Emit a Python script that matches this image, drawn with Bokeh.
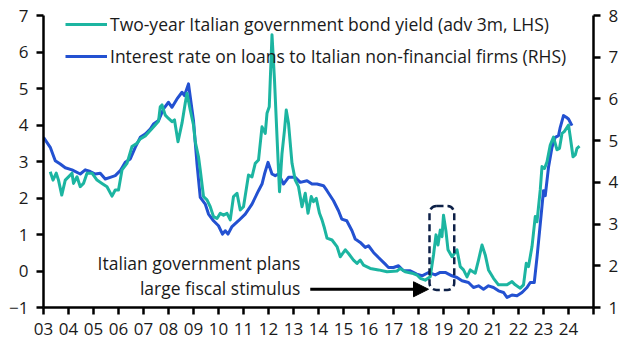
from bokeh.plotting import figure
from bokeh.models import (Range1d, LinearAxis, FixedTicker, Legend, LegendItem,
                          BoxAnnotation, Arrow, NormalHead, Label)
from bokeh.embed import file_html
from bokeh.resources import INLINE

# ---------------- data ----------------
# Two-year Italian government bond yield (adv 3m, LHS), % -- decimal years
bond_years = [
    2003.27, 2003.38, 2003.51, 2003.60, 2003.73, 2003.87,
    2004.00, 2004.14, 2004.20, 2004.34, 2004.47, 2004.60, 2004.74, 2004.94,
    2005.14, 2005.34, 2005.54, 2005.74, 2005.87,
    2006.00, 2006.14, 2006.34, 2006.54, 2006.74, 2006.87,
    2007.07, 2007.27, 2007.47, 2007.60, 2007.67, 2007.74, 2007.87,
    2008.00, 2008.14, 2008.24, 2008.38, 2008.54, 2008.67, 2008.74, 2008.87,
    2009.00, 2009.07, 2009.20, 2009.27, 2009.40, 2009.54, 2009.67, 2009.80, 2009.94,
    2010.07, 2010.20, 2010.34, 2010.47, 2010.60, 2010.74, 2010.87,
    2011.00, 2011.20, 2011.34, 2011.47, 2011.60, 2011.74, 2011.87, 2011.94,
    2012.03, 2012.14, 2012.24, 2012.34, 2012.44, 2012.54, 2012.64, 2012.71, 2012.80, 2012.94,
    2013.07, 2013.20, 2013.34, 2013.47, 2013.58, 2013.71, 2013.80, 2013.91,
    2014.04, 2014.14, 2014.24, 2014.34, 2014.54, 2014.74, 2014.87,
    2015.07, 2015.20, 2015.40, 2015.54, 2015.67, 2015.80,
    2016.07, 2016.40, 2016.74,
    2017.14, 2017.27, 2017.47, 2017.74, 2017.94,
    2018.07, 2018.27, 2018.47, 2018.60, 2018.70, 2018.78, 2018.87, 2018.94,
    2019.00, 2019.10, 2019.18, 2019.34, 2019.54, 2019.67, 2019.80, 2019.94,
    2020.07, 2020.27, 2020.40, 2020.54, 2020.67, 2020.80,
    2021.00, 2021.20, 2021.54, 2021.74, 2021.87,
    2022.07, 2022.20, 2022.31, 2022.40, 2022.54, 2022.67, 2022.74, 2022.87, 2022.94,
    2023.04, 2023.14, 2023.27, 2023.40, 2023.54, 2023.64, 2023.74, 2023.83,
    2024.00, 2024.07, 2024.18, 2024.27, 2024.34, 2024.44,
]
bond_yield = [
    2.72, 2.49, 2.68, 2.49, 2.08, 2.49,
    2.58, 2.68, 2.40, 2.58, 2.31, 2.40, 2.68, 2.68,
    2.49, 2.40, 2.31, 2.05, 2.22,
    2.22, 2.77, 2.95, 3.41, 3.50, 3.62,
    3.70, 3.85, 4.00, 4.10, 4.50, 4.55, 4.27,
    4.18, 4.09, 4.14, 3.54, 4.05, 4.60, 4.87, 4.41,
    4.00, 3.54, 3.13, 2.77, 2.04, 1.95, 1.76, 1.49, 1.44,
    1.58, 1.53, 1.58, 1.40, 2.04, 2.13, 1.67,
    1.76, 2.63, 2.58, 2.95, 3.04, 3.95, 3.77, 4.32,
    4.50, 6.47, 5.23, 3.68, 2.17, 3.22, 3.86, 4.41, 4.05, 2.95,
    2.49, 2.31, 1.76, 2.13, 1.58, 2.04, 1.90, 1.99,
    1.58, 1.40, 1.17, 0.90, 0.85, 0.67, 0.39,
    0.58, 0.48, 0.30, 0.21, 0.30, 0.16,
    0.07, 0.03, -0.02,
    0.00, 0.07, -0.02, -0.06, -0.11,
    -0.20, -0.25, -0.16, 0.44, 0.99, 0.71, 1.12, 0.94,
    1.53, 1.08, 0.58, 0.39, 0.58, 0.12, 0.03, -0.16,
    0.03, -0.06, 0.30, 0.71, 0.44, 0.03,
    -0.20, -0.38, -0.38, -0.29, -0.38,
    -0.47, -0.38, 0.21, 0.12, 0.67, 1.49, 1.35, 2.22, 2.86,
    2.81, 2.99, 3.45, 3.67, 3.32, 3.36, 3.77, 3.82,
    4.00, 3.68, 3.13, 3.18, 3.36, 3.42,
]

# Interest rate on loans to Italian non-financial firms (RHS), %
loan_years = [
    2003.00, 2003.27, 2003.47, 2003.67, 2003.87,
    2004.14, 2004.47, 2004.67, 2004.87,
    2005.07, 2005.27, 2005.47, 2005.67, 2005.87,
    2006.07, 2006.27, 2006.47, 2006.67, 2006.87,
    2007.07, 2007.27, 2007.40, 2007.60, 2007.80,
    2008.00, 2008.14, 2008.34, 2008.54, 2008.64, 2008.80,
    2009.00, 2009.14, 2009.27, 2009.47, 2009.60, 2009.80,
    2010.00, 2010.16, 2010.27, 2010.38, 2010.54, 2010.80,
    2011.07, 2011.34, 2011.60, 2011.74, 2011.84, 2011.98,
    2012.14, 2012.27, 2012.40, 2012.60, 2012.80,
    2013.07, 2013.27, 2013.54, 2013.74, 2013.94,
    2014.20, 2014.34, 2014.60, 2014.80, 2014.93,
    2015.13, 2015.34, 2015.47, 2015.67, 2015.87,
    2016.00, 2016.20, 2016.40, 2016.67, 2016.80,
    2017.00, 2017.20, 2017.40, 2017.67, 2017.93,
    2018.14, 2018.40, 2018.67, 2018.87,
    2019.07, 2019.34, 2019.54, 2019.74,
    2020.00, 2020.20, 2020.40, 2020.60, 2020.80,
    2021.00, 2021.20, 2021.40, 2021.54, 2021.74, 2021.94,
    2022.14, 2022.34, 2022.47, 2022.63, 2022.74, 2022.87,
    2023.00, 2023.07, 2023.20, 2023.34, 2023.47, 2023.60, 2023.67, 2023.80, 2023.91,
    2024.00, 2024.14,
]
loan_rate = [
    5.08, 4.84, 4.52, 4.44, 4.35,
    4.30, 4.20, 4.30, 4.26,
    4.20, 4.22, 4.08, 4.12, 4.16,
    4.28, 4.48, 4.56, 4.84, 5.08,
    5.16, 5.28, 5.40, 5.48, 5.76,
    5.92, 5.80, 6.00, 6.16, 6.08, 6.36,
    5.48, 4.44, 3.64, 3.48, 3.24, 3.08,
    2.96, 2.76, 2.84, 2.76, 2.94, 3.08,
    3.24, 3.48, 3.80, 3.96, 4.20, 4.48,
    4.20, 4.16, 4.20, 3.96, 4.12,
    4.12, 4.00, 4.04, 3.96, 3.96,
    3.92, 3.80, 3.56, 3.32, 3.12,
    3.08, 2.84, 2.64, 2.56, 2.44,
    2.48, 2.32, 2.20, 2.04, 1.96,
    1.96, 2.00, 1.88, 1.88, 1.80,
    1.76, 1.84, 1.78, 1.84,
    1.84, 1.76, 1.72, 1.64,
    1.60, 1.48, 1.52, 1.44, 1.52,
    1.48, 1.40, 1.36, 1.24, 1.30, 1.28,
    1.36, 1.48, 1.60, 1.60, 2.20, 3.00,
    3.80, 3.68, 4.36, 4.84, 5.08, 5.12, 5.32, 5.60, 5.56,
    5.52, 5.36,
]

year_ticks = list(range(2003, 2026))
year_labels = ["%02d" % (y % 100) for y in range(2003, 2025)] + [""]
lhs_ticks = list(range(-1, 8))
rhs_ticks = list(range(1, 9))

series_names = ["Two-year Italian government bond yield (adv 3m, LHS)",
                "Interest rate on loans to Italian non-financial firms (RHS)"]
note_lines = ["Italian government plans", "large fiscal stimulus"]
# annotation anchors (data units)
box_x = (2018.44, 2019.43)
box_y = (-0.52, 1.78)
arrow_x = (2013.67, 2018.40)
arrow_y = -0.50
note_x = 2013.27
note_y = [0.21, -0.47]

# ---------------- styling ----------------
TEAL = "#1cb5a1"
BLUE = "#2351d1"
NAVY = "#0e2148"
FONT = "Open Sans"
TXT = "#1a1a1a"

p = figure(width=629, height=360, output_backend="svg", toolbar_location=None,
           x_range=Range1d(2003, 2025), y_range=Range1d(-1, 7),
           min_border_left=43, min_border_right=36, min_border_top=15,
           min_border_bottom=53)
p.outline_line_color = None
p.xgrid.visible = False
p.ygrid.visible = False
p.background_fill_color = "white"
p.border_fill_color = "white"

p.extra_y_ranges = {"rhs": Range1d(1, 8)}
rax = LinearAxis(y_range_name="rhs")
p.add_layout(rax, "right")

for ax in [p.xaxis[0], p.yaxis[0], rax]:
    ax.axis_line_width = 2.5
    ax.axis_line_color = "black"
    ax.major_tick_line_width = 2.5
    ax.major_tick_line_color = "black"
    ax.major_tick_out = 7
    ax.major_tick_in = 0
    ax.minor_tick_line_color = None
    ax.major_label_text_font = FONT
    ax.major_label_text_font_size = "17px"
    ax.major_label_text_color = TXT
    ax.major_label_standoff = 8

p.xaxis[0].ticker = FixedTicker(ticks=year_ticks)
p.xaxis[0].major_label_overrides = {t: l for t, l in zip(year_ticks, year_labels)}
p.yaxis[0].ticker = FixedTicker(ticks=lhs_ticks)
rax.ticker = FixedTicker(ticks=rhs_ticks)

r_loan = p.line(loan_years, loan_rate, y_range_name="rhs", line_color=BLUE,
                line_width=3, line_join="round")
r_bond = p.line(bond_years, bond_yield, line_color=TEAL, line_width=3,
                line_join="round")

legend = Legend(items=[LegendItem(label=series_names[0], renderers=[r_bond]),
                       LegendItem(label=series_names[1], renderers=[r_loan])],
                location=(22, 239), orientation="vertical",
                background_fill_alpha=0, border_line_color=None,
                label_text_font=FONT, label_text_font_size="17.5px",
                label_text_color=TXT, glyph_width=42, glyph_height=20,
                label_height=20, spacing=8, padding=0, margin=0,
                label_standoff=3)
p.add_layout(legend, "center")

box = BoxAnnotation(left=box_x[0], right=box_x[1], bottom=box_y[0], top=box_y[1],
                    fill_alpha=0, line_alpha=1, line_color=NAVY, line_width=2.5,
                    line_dash="7 4", border_radius=7)
p.add_layout(box)

p.add_layout(Arrow(end=NormalHead(size=15, fill_color="black", line_color="black"),
                   x_start=arrow_x[0], y_start=arrow_y, x_end=arrow_x[1], y_end=arrow_y,
                   line_width=3, line_color="black"))

for txt, yy in zip(note_lines, note_y):
    p.add_layout(Label(x=note_x, y=yy, text=txt, text_align="right",
                       text_baseline="middle", text_font=FONT,
                       text_font_size="17.5px", text_color=TXT))

open("out.html", "w").write(file_html(p, INLINE))
